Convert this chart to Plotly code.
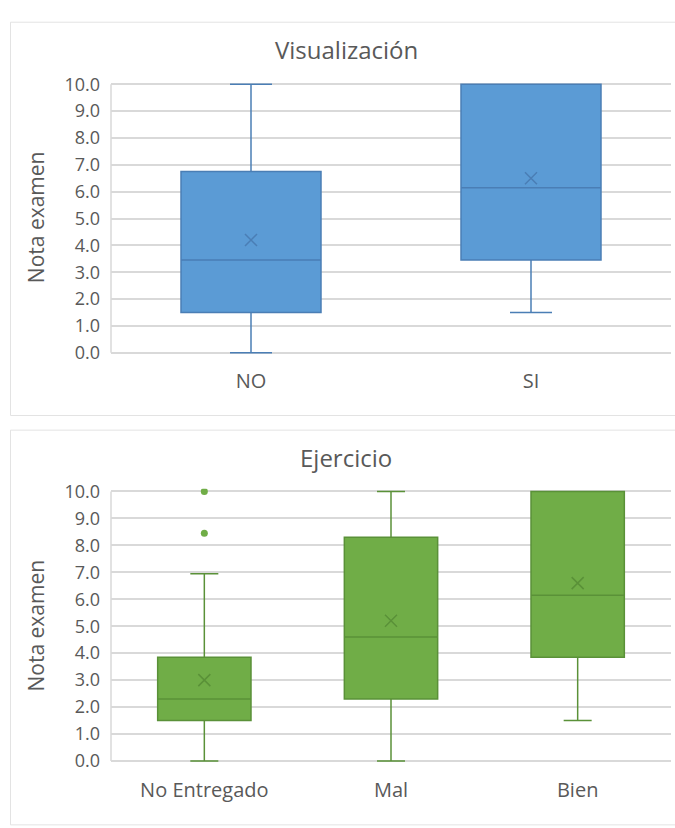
import plotly.graph_objects as go

# ---- data ----
vis_categories = ["NO", "SI"]
vis_q1 = [1.5, 3.45]
vis_median = [3.45, 6.15]
vis_q3 = [6.75, 10.0]
vis_low = [0.0, 1.5]
vis_high = [10.0, 10.0]
vis_mean = [4.2, 6.5]

ej_categories = ["No Entregado", "Mal", "Bien"]
ej_q1 = [1.5, 2.3, 3.85]
ej_median = [2.3, 4.6, 6.15]
ej_q3 = [3.85, 8.3, 10.0]
ej_low = [0.0, 0.0, 1.5]
ej_high = [6.95, 10.0, 10.0]
ej_mean = [3.0, 5.2, 6.6]
ej_outlier_cat = ["No Entregado", "No Entregado"]
ej_outlier_val = [8.45, 10.0]

y_ticks = [0, 1, 2, 3, 4, 5, 6, 7, 8, 9, 10]

# ---- styling ----
W, H = 675, 828
FONT = "Open Sans"
TXT = "#595959"
GRID = "#D9D9D9"
BLUE_FILL, BLUE_LINE = "#5B9BD5", "#4A7EB5"
GREEN_FILL, GREEN_LINE = "#70AD47", "#5A9138"


def px_x(p):
    return p / W


def px_y(p):
    return 1 - p / H


fig = go.Figure()

fig.add_trace(go.Box(
    x=vis_categories, q1=vis_q1, median=vis_median, q3=vis_q3,
    lowerfence=vis_low, upperfence=vis_high,
    fillcolor=BLUE_FILL, line=dict(color=BLUE_LINE, width=1.5),
    whiskerwidth=0.3, width=0.5, boxpoints=False,
    xaxis="x", yaxis="y", showlegend=False, hoverinfo="skip"))
fig.add_trace(go.Scatter(
    x=vis_categories, y=vis_mean, mode="markers",
    marker=dict(symbol="x-thin", size=12, line=dict(color=BLUE_LINE, width=1.5)),
    xaxis="x", yaxis="y", showlegend=False, hoverinfo="skip"))

fig.add_trace(go.Box(
    x=ej_categories, q1=ej_q1, median=ej_median, q3=ej_q3,
    lowerfence=ej_low, upperfence=ej_high,
    fillcolor=GREEN_FILL, line=dict(color=GREEN_LINE, width=1.5),
    whiskerwidth=0.3, width=0.5, boxpoints=False,
    xaxis="x2", yaxis="y2", showlegend=False, hoverinfo="skip"))
fig.add_trace(go.Scatter(
    x=ej_categories, y=ej_mean, mode="markers",
    marker=dict(symbol="x-thin", size=12, line=dict(color=GREEN_LINE, width=1.5)),
    xaxis="x2", yaxis="y2", showlegend=False, hoverinfo="skip"))
fig.add_trace(go.Scatter(
    x=ej_outlier_cat, y=ej_outlier_val, mode="markers",
    marker=dict(symbol="circle", size=7, color=GREEN_FILL),
    xaxis="x2", yaxis="y2", showlegend=False, hoverinfo="skip"))

yax = dict(range=[-0.1, 10.1], tickvals=y_ticks, tickformat=".1f",
           showgrid=True, gridcolor=GRID, gridwidth=1.5, zeroline=False,
           showline=False, ticks="", ticklabelstandoff=10,
           tickfont=dict(family=FONT, size=18, color=TXT), fixedrange=True)
xax = dict(showgrid=False, zeroline=False, showline=False, ticks="",
           ticklabelstandoff=12,
           tickfont=dict(family=FONT, size=20, color=TXT), fixedrange=True)

fig.update_layout(
    width=W, height=H, margin=dict(l=0, r=0, t=0, b=0),
    paper_bgcolor="white", plot_bgcolor="white",
    font=dict(family=FONT, color=TXT),
    xaxis=dict(xax, domain=[px_x(111), px_x(671)], anchor="y",
               categoryorder="array", categoryarray=vis_categories,
               range=[-0.5, 1.5]),
    yaxis=dict(yax, domain=[px_y(353.5), px_y(73.3)], anchor="x"),
    xaxis2=dict(xax, domain=[px_x(111), px_x(671)], anchor="y2",
                categoryorder="array", categoryarray=ej_categories,
                range=[-0.5, 2.5]),
    yaxis2=dict(yax, domain=[px_y(771.4), px_y(490.0)], anchor="x2"),
    shapes=[
        dict(type="rect", xref="paper", yref="paper",
             x0=px_x(10.5), x1=px_x(682), y0=px_y(415), y1=px_y(12.5),
             line=dict(color="#E3E3E3", width=1), fillcolor="rgba(0,0,0,0)", layer="below"),
        dict(type="rect", xref="paper", yref="paper",
             x0=px_x(10.5), x1=px_x(682), y0=px_y(834), y1=px_y(430),
             line=dict(color="#E3E3E3", width=1), fillcolor="rgba(0,0,0,0)", layer="below"),
        dict(type="line", xref="x domain", yref="y", x0=0, x1=0, y0=0, y1=10,
             line=dict(color=GRID, width=1.5), layer="below"),
        dict(type="line", xref="x2 domain", yref="y2", x0=0, x1=0, y0=0, y1=10,
             line=dict(color=GRID, width=1.5), layer="below"),
    ],
    annotations=[
        dict(text="Visualización", x=px_x(346), y=px_y(40), xref="paper", yref="paper",
             showarrow=False, xanchor="center", yanchor="middle",
             font=dict(family=FONT, size=24, color=TXT)),
        dict(text="Ejercicio", x=px_x(346), y=px_y(458), xref="paper", yref="paper",
             showarrow=False, xanchor="center", yanchor="middle",
             font=dict(family=FONT, size=24, color=TXT)),
        dict(text="Nota examen", x=px_x(36), y=px_y(212), xref="paper", yref="paper",
             showarrow=False, xanchor="center", yanchor="middle", textangle=-90,
             font=dict(family=FONT, size=21, color=TXT)),
        dict(text="Nota examen", x=px_x(36), y=px_y(630), xref="paper", yref="paper",
             showarrow=False, xanchor="center", yanchor="middle", textangle=-90,
             font=dict(family=FONT, size=21, color=TXT)),
    ],
)

fig.write_html("out.html", config={"displayModeBar": False},
               post_script="document.body.style.margin='0';")
